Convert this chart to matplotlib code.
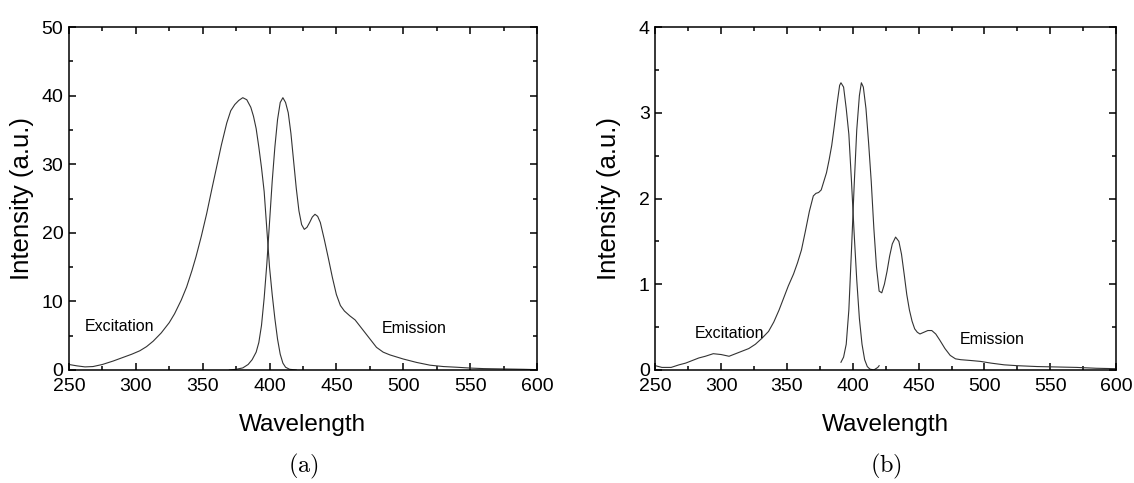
import numpy as np
import matplotlib
matplotlib.use("Agg")
import matplotlib.pyplot as plt
from matplotlib.ticker import MultipleLocator

plt.rcParams['font.family'] = ['Liberation Sans', 'DejaVu Sans']
plt.rcParams['mathtext.fontset'] = 'cm'

# panel (a) spectra
exc_a_wl = [250, 256, 262, 268, 275, 283, 290, 297, 303, 308, 313, 319, 325, 329,
            334, 338, 342, 345, 349, 353, 357, 360, 364, 368, 371, 374, 377, 380,
            383, 386, 388, 390, 392, 394, 396, 398, 400, 402, 404, 406, 408, 410,
            412, 415, 420]
exc_a_int = [0.8, 0.6, 0.45, 0.5, 0.8, 1.3, 1.8, 2.3, 2.8, 3.4, 4.2, 5.4, 6.9, 8.2,
             10.2, 12.1, 14.5, 16.5, 19.5, 22.8, 26.5, 29.2, 32.8, 36.0, 37.8, 38.7,
             39.3, 39.7, 39.4, 38.3, 37.0, 35.2, 32.5, 29.5, 26.0, 20.5, 15.0, 11.0,
             7.5, 4.5, 2.3, 1.0, 0.4, 0.1, 0.0]

em_a_wl = [370, 375, 380, 384, 387, 390, 392, 394, 396, 398, 400, 402, 404, 406,
           408, 410, 412, 414, 416, 418, 420, 422, 424, 426, 428, 430, 432, 434,
           436, 438, 441, 444, 447, 450, 453, 456, 460, 464, 468, 472, 476, 480,
           485, 490, 500, 510, 520, 530, 540, 550, 560, 575, 590, 600]
em_a_int = [0.0, 0.1, 0.3, 0.8, 1.5, 2.6, 4.0, 6.5, 10.5, 15.5, 21.5, 27.5, 32.5,
            36.5, 39.0, 39.7, 39.0, 37.5, 34.5, 30.5, 26.5, 23.2, 21.2, 20.5, 20.8,
            21.5, 22.3, 22.7, 22.4, 21.5, 19.0, 16.3, 13.5, 11.0, 9.4, 8.6, 7.9,
            7.3, 6.3, 5.3, 4.3, 3.3, 2.6, 2.2, 1.6, 1.1, 0.7, 0.5, 0.4, 0.28, 0.2,
            0.15, 0.1, 0.05]

# panel (b) spectra
exc_b_wl = [250, 255, 262, 268, 273, 278, 283, 288, 294, 300, 306, 311, 316, 321,
            326, 331, 336, 340, 344, 348, 351, 355, 358, 361, 364, 367, 370, 372,
            374, 376, 378, 380, 382, 384, 386, 388, 390, 391, 393, 395, 397, 399,
            401, 403, 405, 407, 409, 411, 413, 416, 419, 420]
exc_b_int = [0.05, 0.03, 0.03, 0.06, 0.08, 0.11, 0.14, 0.16, 0.19, 0.18, 0.16, 0.19,
             0.22, 0.25, 0.3, 0.37, 0.45, 0.56, 0.7, 0.86, 0.98, 1.12, 1.25, 1.4,
             1.62, 1.85, 2.03, 2.06, 2.07, 2.1, 2.2, 2.3, 2.45, 2.62, 2.85, 3.1,
             3.32, 3.35, 3.3, 3.05, 2.75, 2.2, 1.6, 1.05, 0.6, 0.3, 0.12, 0.04,
             0.01, 0.0, 0.03, 0.05]

em_b_wl = [391, 393, 395, 397, 399, 401, 403, 405, 406.5, 408, 410, 412, 414, 416,
           418, 420, 422, 424, 426, 428, 430, 432.5, 435, 437, 439, 441, 443, 445,
           447, 449, 451, 454, 457, 460, 463, 466, 470, 474, 478, 482, 490, 497,
           505, 515, 525, 540, 555, 570, 585, 600]
em_b_int = [0.09, 0.15, 0.3, 0.7, 1.4, 2.14, 2.8, 3.2, 3.35, 3.3, 3.05, 2.65, 2.2,
            1.65, 1.2, 0.92, 0.9, 1.0, 1.15, 1.33, 1.47, 1.55, 1.5, 1.35, 1.12,
            0.88, 0.7, 0.57, 0.48, 0.44, 0.42, 0.44, 0.46, 0.46, 0.42, 0.35, 0.25,
            0.17, 0.13, 0.12, 0.11, 0.1, 0.08, 0.06, 0.05, 0.04, 0.035, 0.03, 0.02,
            0.015]

fig = plt.figure(figsize=(11.34, 4.83), dpi=100)
ax_a = fig.add_axes([0.0608, 0.234, 0.4127, 0.710])
ax_b = fig.add_axes([0.5779, 0.234, 0.4063, 0.710])

panels = [
    (ax_a, exc_a_wl, exc_a_int, em_a_wl, em_a_int, 50, 10, 5,
     (262, 6.3), (484, 6.0), '(a)'),
    (ax_b, exc_b_wl, exc_b_int, em_b_wl, em_b_int, 4, 1, 0.5,
     (280, 0.43), (481, 0.36), '(b)'),
]

for ax, xw, xi, ew, ei, ymax, ymaj, ymin, exc_pos, em_pos, tag in panels:
    ax.plot(xw, xi, color='#333333', lw=0.8)
    ax.plot(ew, ei, color='#333333', lw=0.8)
    ax.set_xlim(250, 600)
    ax.set_ylim(0, ymax)
    ax.xaxis.set_major_locator(MultipleLocator(50))
    ax.xaxis.set_minor_locator(MultipleLocator(25))
    ax.yaxis.set_major_locator(MultipleLocator(ymaj))
    ax.yaxis.set_minor_locator(MultipleLocator(ymin))
    ax.tick_params(which='both', direction='in', top=True, right=True,
                   width=1.1, labelsize=14)
    ax.tick_params(which='major', length=5)
    ax.tick_params(which='minor', length=3)
    ax.tick_params(axis='x', pad=6)
    ax.tick_params(axis='y', pad=4)
    for sp in ax.spines.values():
        sp.set_linewidth(1.1)
    ax.text(exc_pos[0], exc_pos[1], 'Excitation', fontsize=11.5, va='center')
    ax.text(em_pos[0], em_pos[1], 'Emission', fontsize=11.5, va='center')
    ax.text(-0.10, 0.5, 'Intensity (a.u.)', transform=ax.transAxes,
            rotation=90, ha='center', va='center', fontsize=18.5)
    ax.text(0.5, -0.16, 'Wavelength', transform=ax.transAxes,
            ha='center', va='center', fontsize=17.5)
    ax.text(0.5, -0.28, r'$\mathrm{' + tag + '}$', transform=ax.transAxes,
            ha='center', va='center', fontsize=17.5)

fig.savefig('out.png', dpi=100)
